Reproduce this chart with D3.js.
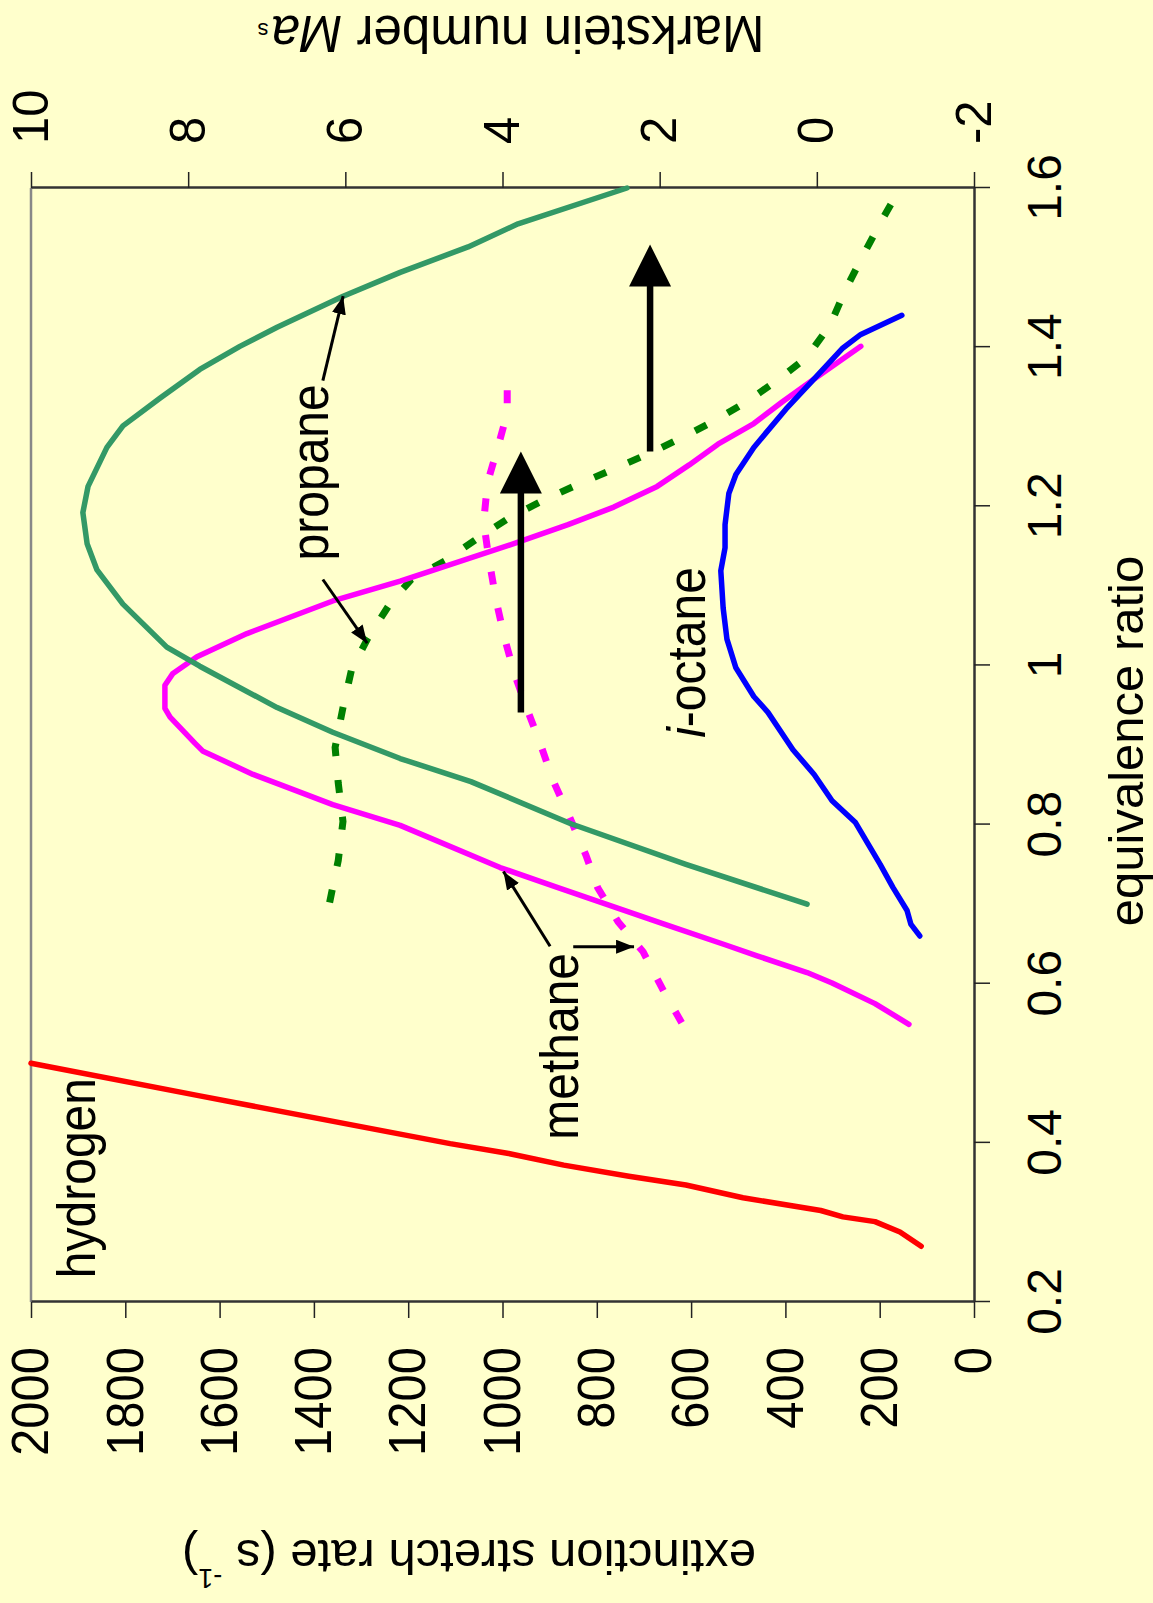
<!DOCTYPE html>
<html>
<head>
<meta charset="utf-8">
<script src="https://cdn.jsdelivr.net/npm/d3@7"></script>
<style>
  body { margin: 0; background: #ffffcc; }
  svg { display: block; font-family: "Liberation Sans", Arial, Helvetica, sans-serif; }
</style>
</head>
<body>
<svg id="chart" width="1153" height="1603"></svg>
<script>
// tick values and labels
var phiTicks = [0.2, 0.4, 0.6, 0.8, 1, 1.2, 1.4, 1.6];
var phiTickLabels = ["0.2", "0.4", "0.6", "0.8", "1", "1.2", "1.4", "1.6"];
var rateTicks = [0, 200, 400, 600, 800, 1000, 1200, 1400, 1600, 1800, 2000];
var maTicks = [-2, 0, 2, 4, 6, 8, 10];

// extinction stretch rate (s-1) vs equivalence ratio
var hydrogenPhi  = [0.270, 0.288, 0.301, 0.307, 0.315, 0.331, 0.347, 0.358, 0.372, 0.387, 0.399, 0.411, 0.459, 0.500];
var hydrogenRate = [112, 157, 210, 278, 325, 490, 611, 732, 870, 990, 1111, 1217, 1642, 2000];

var methanePhi  = [0.549, 0.575, 0.601, 0.614, 0.635, 0.649, 0.675, 0.721, 0.746, 0.799, 0.825, 0.849, 0.863, 0.875, 0.892, 0.902, 0.935, 0.946, 0.975, 0.990, 1.011, 1.040, 1.081, 1.106, 1.153, 1.177, 1.199, 1.225, 1.252, 1.278, 1.304, 1.331, 1.360, 1.401];
var methaneRate = [138, 210, 301, 354, 460, 528, 657, 884, 1005, 1217, 1360, 1466, 1529, 1572, 1635, 1652, 1705, 1716, 1716, 1699, 1648, 1542, 1360, 1217, 976, 861, 764, 672, 604, 543, 467, 407, 339, 240];

var propanePhi  = [0.700, 0.750, 0.801, 0.854, 0.883, 0.916, 0.947, 0.999, 1.023, 1.077, 1.120, 1.153, 1.192, 1.225, 1.274, 1.301, 1.336, 1.372, 1.401, 1.425, 1.464, 1.494, 1.526, 1.555, 1.600];
var propaneRate = [354, 611, 855, 1067, 1217, 1360, 1478, 1642, 1712, 1805, 1860, 1881, 1890, 1879, 1839, 1805, 1726, 1642, 1557, 1478, 1338, 1217, 1073, 967, 736];

var octanePhi  = [0.660, 0.675, 0.692, 0.721, 0.750, 0.803, 0.830, 0.863, 0.894, 0.941, 0.961, 0.997, 1.033, 1.072, 1.119, 1.148, 1.177, 1.216, 1.240, 1.274, 1.322, 1.360, 1.399, 1.416, 1.440];
var octaneRate = [115, 134, 142, 172, 199, 252, 301, 339, 384, 437, 467, 505, 524, 532, 537, 528, 528, 520, 505, 467, 399, 339, 278, 240, 153];

// Markstein number vs equivalence ratio (dashed)
var propaneMaPhi = [0.702, 0.755, 0.804, 0.852, 0.897, 0.947, 0.995, 1.033, 1.081, 1.108, 1.132, 1.161, 1.187, 1.209, 1.228, 1.247, 1.267, 1.286, 1.307, 1.331, 1.360, 1.387, 1.428, 1.471, 1.514, 1.560, 1.600];
var propaneMa    = [6.20, 6.09, 6.03, 6.09, 6.13, 6.03, 5.92, 5.72, 5.41, 5.16, 4.72, 4.30, 3.89, 3.45, 3.03, 2.58, 2.12, 1.72, 1.31, 0.90, 0.48, 0.13, -0.17, -0.36, -0.58, -0.83, -1.06];

var methaneMaPhi = [0.551, 0.591, 0.640, 0.678, 0.721, 0.762, 0.808, 0.854, 0.899, 0.946, 0.990, 1.033, 1.081, 1.132, 1.180, 1.230, 1.274, 1.317, 1.376];
var methaneMa    = [1.72, 1.95, 2.21, 2.53, 2.79, 2.94, 3.14, 3.35, 3.51, 3.69, 3.85, 3.97, 4.08, 4.17, 4.24, 4.19, 4.06, 3.94, 3.94];

// annotations, in data units (phi, stretch rate)
var labelNames = ["hydrogen", "methane", "propane", "octane"];
var labelPhi   = [0.230, 0.404, 1.132, 0.909];
var labelRate  = [1864, 840, 1370, 571];

var pointerFrom = [[1.358, 1381], [1.108, 1381], [0.647, 899], [0.6465, 850]];
var pointerTo   = [[1.464, 1338], [1.028, 1287], [0.741, 998], [0.6465, 721]];

var shiftRate = [961, 687];
var shiftFrom = [0.941, 1.269];
var shiftTo   = [1.269, 1.529];

(function () {
  var svg = d3.select("#chart");
  var pageH = +svg.attr("height");

  svg.append("rect")
    .attr("width", svg.attr("width"))
    .attr("height", pageH)
    .attr("fill", "#ffffcc");

  // the whole chart is drawn normally, then turned a quarter turn counter-clockwise
  var g = svg.append("g")
    .attr("transform", "translate(0," + pageH + ") rotate(-90)");

  var plot = {left: 301, right: 1415, top: 31, bottom: 974};

  var x = d3.scaleLinear().domain([0.2, 1.6]).range([plot.left, plot.right]);
  var y = d3.scaleLinear().domain([0, 2000]).range([plot.bottom, plot.top]);
  var y2 = d3.scaleLinear().domain([-2, 10]).range([plot.bottom, plot.top]);

  // top border of the plot (grey)
  g.append("line")
    .attr("x1", plot.left).attr("x2", plot.right)
    .attr("y1", plot.top).attr("y2", plot.top)
    .attr("stroke", "#888").attr("stroke-width", 2.5);

  function styleAxis(ax, size) {
    ax.select(".domain").attr("stroke", "#333").attr("stroke-width", 2.5);
    ax.selectAll(".tick line").attr("stroke", "#222").attr("stroke-width", 1.5);
    ax.selectAll("text").attr("font-size", size).attr("fill", "#000")
      .attr("font-family", "Liberation Sans, Arial, sans-serif");
  }

  var xAxis = g.append("g")
    .attr("transform", "translate(0," + plot.bottom + ")")
    .call(d3.axisBottom(x)
      .tickValues(phiTicks)
      .tickFormat(function(d, i) { return phiTickLabels[i]; })
      .tickSize(16).tickSizeOuter(0).tickPadding(37));
  styleAxis(xAxis, 48);

  var yAxis = g.append("g")
    .attr("transform", "translate(" + plot.left + ",0)")
    .call(d3.axisLeft(y)
      .tickValues(rateTicks)
      .tickFormat(function(d) { return String(d); })
      .tickSize(16).tickSizeOuter(0).tickPadding(29));
  styleAxis(yAxis, 49);
  yAxis.selectAll("text").attr("transform", "scale(1,1.07)");

  var y2Axis = g.append("g")
    .attr("transform", "translate(" + plot.right + ",0)")
    .call(d3.axisRight(y2)
      .tickValues(maTicks)
      .tickFormat(function(d) { return String(d); })
      .tickSize(16).tickSizeOuter(0).tickPadding(28));
  styleAxis(y2Axis, 49);
  y2Axis.selectAll("text").attr("transform", "scale(1,1.03)");

  // axis titles
  g.append("text")
    .attr("x", 862).attr("y", 1143)
    .attr("text-anchor", "middle")
    .attr("font-size", 49)
    .text("equivalence ratio");

  var yTitle = g.append("text")
    .attr("transform", "translate(63,469) rotate(-90)")
    .attr("text-anchor", "middle")
    .attr("font-size", 49);
  yTitle.append("tspan").text("extinction stretch rate (s ");
  yTitle.append("tspan").attr("font-size", 27).attr("dy", -29).text("-1");
  yTitle.append("tspan").attr("dy", 29).text(")");

  var y2Title = g.append("text")
    .attr("transform", "translate(1587,511) rotate(-90)")
    .attr("text-anchor", "middle")
    .attr("font-size", 51);
  y2Title.append("tspan").text("Markstein number ");
  y2Title.append("tspan").attr("font-style", "italic").text("Ma");
  y2Title.append("tspan").attr("font-size", 22).attr("dx", 3).attr("dy", -7).text("s");

  // curves
  function series(px, py, sy) {
    return px.map(function(p, i) { return [x(p), sy(py[i])]; });
  }
  var line = d3.line();

  var solid = [
    {pts: series(hydrogenPhi, hydrogenRate, y), color: "#ff0000"},
    {pts: series(methanePhi, methaneRate, y), color: "#ff00ff"},
    {pts: series(propanePhi, propaneRate, y), color: "#339966"},
    {pts: series(octanePhi, octaneRate, y), color: "#0000ff"}
  ];
  var dashed = [
    {pts: series(methaneMaPhi, methaneMa, y2), color: "#ff00ff"},
    {pts: series(propaneMaPhi, propaneMa, y2), color: "#008000"}
  ];

  g.selectAll(".dashed")
    .data(dashed)
    .enter().append("path")
    .attr("class", "dashed")
    .attr("d", function(d) { return line(d.pts); })
    .attr("fill", "none")
    .attr("stroke", function(d) { return d.color; })
    .attr("stroke-width", 7)
    .attr("stroke-dasharray", "13 24");

  g.selectAll(".solid")
    .data(solid)
    .enter().append("path")
    .attr("class", "solid")
    .attr("d", function(d) { return line(d.pts); })
    .attr("fill", "none")
    .attr("stroke", function(d) { return d.color; })
    .attr("stroke-width", 5.5)
    .attr("stroke-linejoin", "round")
    .attr("stroke-linecap", "round");

  // big shift arrows
  shiftRate.forEach(function(r, i) {
    var v = y(r), u0 = x(shiftFrom[i]), u1 = x(shiftTo[i]);
    g.append("line")
      .attr("x1", u0).attr("x2", u1 - 40)
      .attr("y1", v).attr("y2", v)
      .attr("stroke", "#000").attr("stroke-width", 6.5);
    g.append("path")
      .attr("d", "M" + u1 + "," + v + "L" + (u1 - 42) + "," + (v - 21) + "L" + (u1 - 42) + "," + (v + 21) + "Z")
      .attr("fill", "#000");
  });

  // small pointer arrows
  g.append("defs").append("marker")
    .attr("id", "head")
    .attr("markerUnits", "userSpaceOnUse")
    .attr("viewBox", "0 0 18 14")
    .attr("refX", 18).attr("refY", 7)
    .attr("markerWidth", 18).attr("markerHeight", 14)
    .attr("orient", "auto")
    .append("path")
    .attr("d", "M0,0L18,7L0,14Z")
    .attr("fill", "#000");

  pointerFrom.forEach(function(f, i) {
    var t = pointerTo[i];
    g.append("line")
      .attr("x1", x(f[0])).attr("y1", y(f[1]))
      .attr("x2", x(t[0])).attr("y2", y(t[1]))
      .attr("stroke", "#000").attr("stroke-width", 3)
      .attr("marker-end", "url(#head)");
  });

  // curve labels
  labelNames.forEach(function(name, i) {
    var t = g.append("text")
      .attr("transform", "translate(" + x(labelPhi[i]) + "," + y(labelRate[i]) + ") scale(1,1.1)")
      .attr("font-size", 48);
    if (name === "octane") {
      t.append("tspan").attr("font-style", "italic").text("i");
      t.append("tspan").text("-octane");
    } else {
      t.text(name);
    }
  });
}());
</script>
</body>
</html>
